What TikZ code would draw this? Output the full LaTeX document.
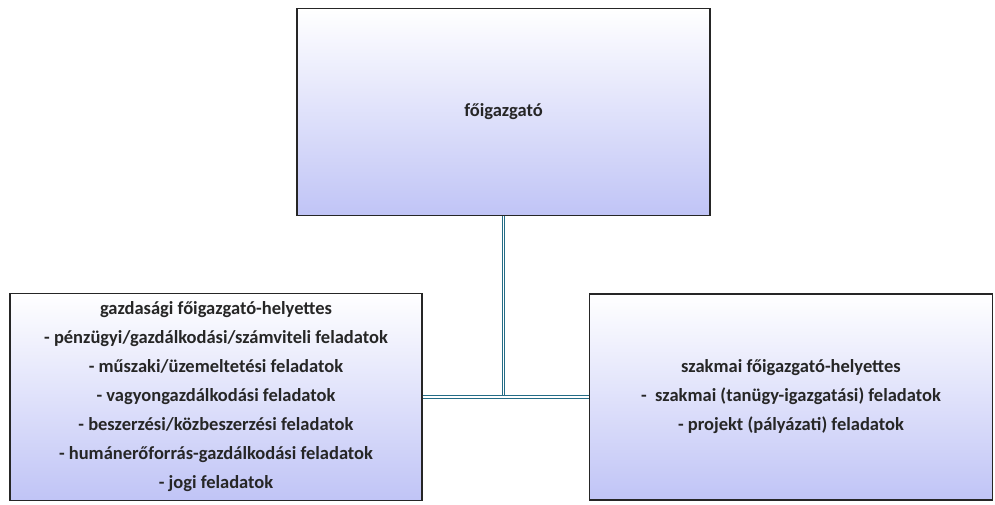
\documentclass[tikz,border=0pt]{standalone}
\usepackage{fontspec}
\setmainfont{Carlito}
\usetikzlibrary{positioning}

\definecolor{boxlav}{RGB}{192,196,246}
\definecolor{connteal}{RGB}{36,108,134}
\definecolor{txtgray}{RGB}{38,38,38}

\tikzset{
	unitbox/.style={draw=black!85, line width=1.1pt, top color=white, bottom color=boxlav,
		text=txtgray, font={\fontsize{18.5}{29}\selectfont\bfseries}, align=center, inner sep=0pt},
	conn/.style={draw=connteal, line width=0.9pt, double=white, double distance=1.5pt}
}

\begin{document}
\begin{tikzpicture}[x=1pt,y=-1pt]
	\useasboundingbox (0,0) rectangle (995,504);
	
	\node[unitbox, minimum width=413pt, minimum height=207pt] (fo) at (503.5,112) {főigazgató};
	\node[unitbox, minimum width=412pt, minimum height=207pt] (gh) at (216,397) {gazdasági főigazgató-helyettes\\
		- pénzügyi/gazdálkodási/számviteli feladatok\\
		- műszaki/üzemeltetési feladatok\\
		- vagyongazdálkodási feladatok\\
		- beszerzési/közbeszerzési feladatok\\
		- humánerőforrás-gazdálkodási feladatok\\
		- jogi feladatok};
	\node[unitbox, minimum width=403pt, minimum height=206pt] (szh) at (791,397) {szakmai főigazgató-helyettes\\
		- \ szakmai (tanügy-igazgatási) feladatok\\
		- projekt (pályázati) feladatok};
	
	\draw[conn] (fo.south) -- (fo.south |- gh.east);
	\draw[conn] (gh.east) -- (szh.west);
\end{tikzpicture}
\end{document}
